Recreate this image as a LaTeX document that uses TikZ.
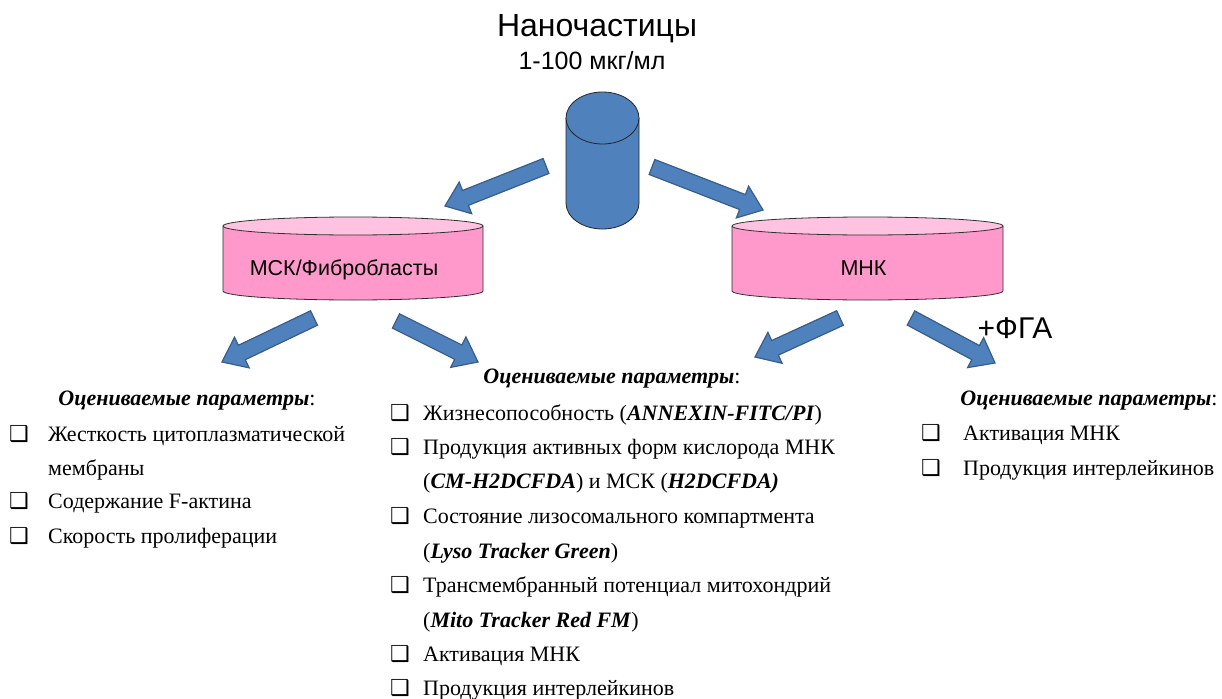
\documentclass[tikz,border=0pt]{standalone}
\usepackage{fontspec}
\setmainfont{Liberation Serif}
\newfontfamily\arialf{Liberation Sans}
\newfontfamily\symf{DejaVu Sans}
\usetikzlibrary{calc}
\definecolor{arrf}{HTML}{4F81BD}
\definecolor{arrb}{HTML}{385D8A}
\definecolor{cylblue}{HTML}{4F81BD}
\definecolor{pinkbody}{HTML}{FF99CC}
\definecolor{pinktop}{HTML}{FFC2E1}
\definecolor{cyledge}{HTML}{303030}
\newcommand\blockarrow[2]{%
  \coordinate (ah) at ($(#2)!22pt!(#1)$);
  \filldraw[barrowstyle] ($(#1)!8pt!90:(#2)$) -- ($(ah)!8pt!90:(#2)$) -- ($(ah)!17pt!90:(#2)$) -- (#2)
    -- ($(ah)!17pt!-90:(#2)$) -- ($(ah)!8pt!-90:(#2)$) -- ($(#1)!8pt!-90:(#2)$) -- cycle;
}
\newcommand\pinkcyl[4]{% cx, rx, top y, bottom y
  \fill[pinkbody] ({#1-#2},#3) -- ({#1-#2},#4) arc[start angle=180,end angle=360,x radius=#2,y radius=9] -- ({#1+#2},#3) -- cycle;
  \draw[cylline] ({#1-#2},#3) -- ({#1-#2},#4) arc[start angle=180,end angle=360,x radius=#2,y radius=9] -- ({#1+#2},#3);
  \filldraw[cylline,fill=pinktop] (#1,#3) ellipse[x radius=#2,y radius=9];
}
\begin{document}
\begin{tikzpicture}[x=1pt,y=1pt,
  barrowstyle/.style={fill=arrf,draw=arrb,line width=1.2pt,line join=miter},
  cylline/.style={draw=cyledge,line width=0.8pt},
  sanstext/.style={inner sep=0pt,font=\arialf},
  listtext/.style={inner sep=0pt,anchor=base west,font=\fontsize{22}{26}\selectfont},
  headtext/.style={inner sep=0pt,anchor=base,font=\fontsize{22}{26}\selectfont},
  bulletbox/.style={inner sep=0pt,anchor=base,font=\symf\fontsize{22}{26}\selectfont}]
\useasboundingbox (0,0) rectangle (1222,-698);
\fill[white] (0,0) rectangle (1222,-698);

% titles
\node[sanstext,anchor=base,font=\arialf\fontsize{32}{38}\selectfont] (title) at (597,-37) {Наночастицы};
\node[sanstext,anchor=base,font=\arialf\fontsize{25}{30}\selectfont] (conc) at (592,-70) {1-100 мкг/мл};

% blue cylinder
\fill[cylblue] (566,-118) -- (566,-203) arc[start angle=180,end angle=360,x radius=36.5,y radius=26] -- (639,-118) -- cycle;
\draw[cylline,draw=black!85] (566,-118) -- (566,-203) arc[start angle=180,end angle=360,x radius=36.5,y radius=26] -- (639,-118);
\filldraw[cylline,draw=black!85,fill=cylblue] (602.5,-118) ellipse[x radius=36.5,y radius=26];
\coordinate (nano) at (602.5,-160);

% pink cylinders
\pinkcyl{353}{130}{-226}{-291}
\pinkcyl{867.5}{135.5}{-226}{-291}
\node[sanstext,anchor=base,font=\arialf\fontsize{21.5}{26}\selectfont] (msc) at (344,-275) {МСК/Фибробласты};
\node[sanstext,anchor=base,font=\arialf\fontsize{21.5}{26}\selectfont] (mnk) at (863.5,-275) {МНК};

% arrows
\coordinate (a1s) at (546,-166); \coordinate (a1e) at (445,-206);
\coordinate (a2s) at (652,-167); \coordinate (a2e) at (763,-210);
\coordinate (a3s) at (314,-318); \coordinate (a3e) at (222,-362);
\coordinate (a4s) at (396,-321); \coordinate (a4e) at (478,-362);
\coordinate (a5s) at (840,-318); \coordinate (a5e) at (755,-357);
\coordinate (a6s) at (911,-318); \coordinate (a6e) at (995,-363);
\blockarrow{a1s}{a1e}
\blockarrow{a2s}{a2e}
\blockarrow{a3s}{a3e}
\blockarrow{a4s}{a4e}
\blockarrow{a5s}{a5e}
\blockarrow{a6s}{a6e}
\node[sanstext,anchor=base,font=\arialf\fontsize{30}{35}\selectfont] (fga) at (1015,-338) {+ФГА};

% left list
\node[headtext] (lh) at (187,-405) {\textbf{\textit{Оцениваемые параметры}}:};
\node[bulletbox] (lb1) at (19,-441) {❑};
\node[listtext] (l1) at (48,-441) {Жесткость цитоплазматической};
\node[listtext] (l2) at (48,-475) {мембраны};
\node[bulletbox] (lb2) at (19,-508) {❑};
\node[listtext] (l3) at (48,-508) {Содержание F-актина};
\node[bulletbox] (lb3) at (19,-543) {❑};
\node[listtext] (l4) at (48,-543) {Скорость пролиферации};

% middle list
\node[headtext] (mh) at (612,-383) {\textbf{\textit{Оцениваемые параметры}}:};
\node[bulletbox] (mb1) at (400,-420) {❑};
\node[listtext] (m1) at (423,-420) {Жизнесопособность (\textbf{\textit{ANNEXIN-FITC/PI}})};
\node[bulletbox] (mb2) at (400,-454) {❑};
\node[listtext] (m2) at (423,-454) {Продукция активных форм кислорода МНК};
\node[listtext] (m3) at (423,-488) {(\textbf{\textit{CM-H2DCFDA}}) и МСК (\textbf{\textit{H2DCFDA)}}};
\node[bulletbox] (mb3) at (400,-523) {❑};
\node[listtext] (m4) at (423,-523) {Состояние лизосомального компартмента};
\node[listtext] (m5) at (423,-558) {(\textbf{\textit{Lyso Tracker Green}})};
\node[bulletbox] (mb4) at (400,-592) {❑};
\node[listtext] (m6) at (423,-592) {Трансмембранный потенциал митохондрий};
\node[listtext] (m7) at (423,-627) {(\textbf{\textit{Mito Tracker Red FM}})};
\node[bulletbox] (mb5) at (400,-661) {❑};
\node[listtext] (m8) at (423,-661) {Активация МНК};
\node[bulletbox] (mb6) at (400,-695) {❑};
\node[listtext] (m9) at (423,-695) {Продукция интерлейкинов};

% right list
\node[headtext] (rh) at (1089,-405) {\textbf{\textit{Оцениваемые параметры}}:};
\node[bulletbox] (rb1) at (931,-440) {❑};
\node[listtext] (r1) at (963,-440) {Активация МНК};
\node[bulletbox] (rb2) at (931,-475) {❑};
\node[listtext] (r2) at (963,-475) {Продукция интерлейкинов};
\end{tikzpicture}
\end{document}
